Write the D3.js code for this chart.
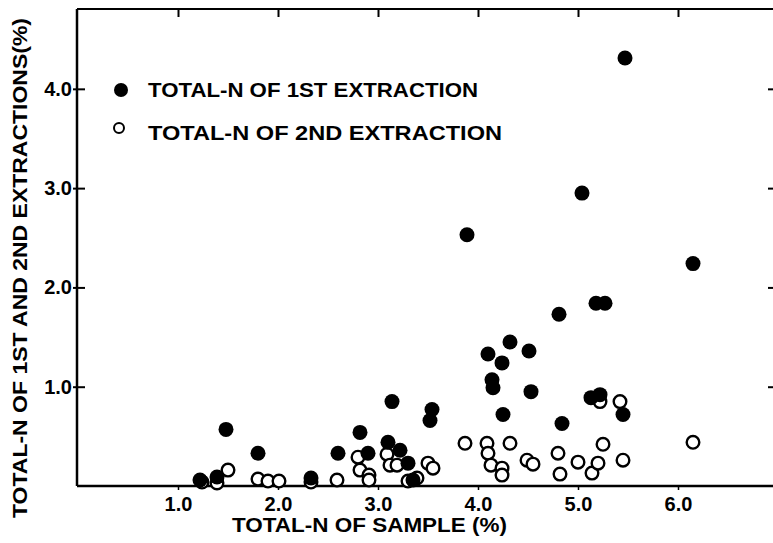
<!DOCTYPE html>
<html>
<head>
<meta charset="utf-8">
<script src="https://cdn.jsdelivr.net/npm/d3@7"></script>
<style>
  body { margin: 0; background: #fff; }
  text { font-family: "Liberation Sans", Arial, sans-serif; font-weight: bold; fill: #000; }
</style>
</head>
<body>
<svg id="chart" width="773" height="543"></svg>
<script>
// values (percent)
const firstX = [5.47, 5.04, 3.89, 6.15, 5.18, 5.27, 4.81, 4.32, 4.10, 4.51, 4.24, 4.14, 4.15, 4.53, 4.25, 4.84, 5.13, 5.22,
  5.45, 3.54, 3.52, 2.82, 3.14, 3.10, 3.22, 3.30, 2.90, 1.48, 1.80, 2.60, 1.22, 1.39, 2.33, 3.35]
const firstY = [4.31, 2.95, 2.53, 2.24, 1.84, 1.84, 1.73, 1.45, 1.33, 1.36, 1.24, 1.07, 0.99, 0.95, 0.72, 0.63, 0.89, 0.92,
  0.72, 0.77, 0.66, 0.54, 0.85, 0.44, 0.36, 0.23, 0.33, 0.57, 0.33, 0.33, 0.06, 0.09, 0.08, 0.06]

const secondX = [1.24, 1.39, 1.50, 1.80, 1.90, 2.01, 2.33, 2.59, 2.80, 2.82, 2.91, 2.91, 3.09, 3.12, 3.19, 3.30, 3.39, 3.50, 3.55,
  3.87, 4.09, 4.10, 4.13, 4.24, 4.24, 4.32, 4.49, 4.55, 4.80, 4.82, 5.00, 5.14, 5.20, 5.25, 5.22, 5.42, 5.45, 6.15]
const secondY = [0.04, 0.03, 0.16, 0.07, 0.05, 0.05, 0.04, 0.06, 0.29, 0.16, 0.11, 0.06, 0.32, 0.21, 0.21, 0.05, 0.08, 0.23, 0.18,
  0.43, 0.43, 0.33, 0.21, 0.18, 0.11, 0.43, 0.26, 0.22, 0.33, 0.12, 0.24, 0.13, 0.23, 0.42, 0.85, 0.85, 0.26, 0.44]

const xTicks = [1, 2, 3, 4, 5, 6]
const yTicks = [1, 2, 3, 4]
const legendLabels = ['TOTAL-N OF 1ST EXTRACTION', 'TOTAL-N OF 2ND EXTRACTION']

const svg = d3.select('#chart')

const x = d3.scaleLinear().domain([0, 7]).range([78, 778])
const y = d3.scaleLinear().domain([0, 4.8]).range([486, 9.4])

const fmt = d3.format('.1f')

// frame line along the top
svg.append('line').attr('x1', 77).attr('x2', 773).attr('y1', 9).attr('y2', 9).style('stroke', 'black').style('stroke-width', 2)

// bottom axis
const bottomAxis = svg.append('g').attr('transform', 'translate(0,486)')
  .call(d3.axisBottom(x).tickValues(xTicks).tickFormat(fmt).tickSizeInner(4).tickSizeOuter(0).tickPadding(6))
bottomAxis.select('.domain').attr('d', 'M77,0H773').style('stroke-width', 2.5)
bottomAxis.selectAll('.tick line').style('stroke-width', 1.5)
bottomAxis.selectAll('.tick text').style('font-size', '20px').attr('dy', '0.75em')

// top ticks
const topAxis = svg.append('g').attr('transform', 'translate(0,9)')
  .call(d3.axisTop(x).tickValues(xTicks).tickFormat('').tickSizeInner(-8).tickSizeOuter(0))
topAxis.select('.domain').remove()
topAxis.selectAll('.tick line').style('stroke-width', 2)

// left axis, ticks cross the line
const leftAxis = svg.append('g').attr('transform', 'translate(77,0)')
  .call(d3.axisLeft(y).tickValues(yTicks).tickFormat(fmt).tickSizeInner(-8).tickSizeOuter(0).tickPadding(5))
leftAxis.select('.domain').attr('d', 'M0,9V486').style('stroke-width', 2.5)
leftAxis.selectAll('.tick line').attr('x1', -4).style('stroke-width', 2)
leftAxis.selectAll('.tick text').style('font-size', '20px')

// right ticks
const rightAxis = svg.append('g').attr('transform', 'translate(776,0)')
  .call(d3.axisRight(y).tickValues(yTicks).tickFormat('').tickSizeInner(-8).tickSizeOuter(0))
rightAxis.select('.domain').remove()
rightAxis.selectAll('.tick line').style('stroke-width', 2)

// points
svg.selectAll('.second').data(secondX.map((v, i) => [v, secondY[i]])).enter().append('circle')
  .attr('class', 'second').attr('cx', d => x(d[0])).attr('cy', d => y(d[1])).attr('r', 6.3)
  .style('fill', 'white').style('stroke', 'black').style('stroke-width', 2.4)

svg.selectAll('.first').data(firstX.map((v, i) => [v, firstY[i]])).enter().append('circle')
  .attr('class', 'first').attr('cx', d => x(d[0])).attr('cy', d => y(d[1])).attr('r', 7.5)
  .style('fill', 'black')

// legend
const legend = svg.append('g')
legend.append('circle').attr('cx', 121).attr('cy', 90).attr('r', 7).style('fill', 'black')
legend.append('circle').attr('cx', 119).attr('cy', 128).attr('r', 5).style('fill', 'white').style('stroke', 'black').style('stroke-width', 2)
legend.append('text').attr('x', 148).attr('y', 97).text(legendLabels[0])
  .style('font-size', '20px').attr('textLength', 330).attr('lengthAdjust', 'spacingAndGlyphs')
legend.append('text').attr('x', 148).attr('y', 140).text(legendLabels[1])
  .style('font-size', '20px').attr('textLength', 354).attr('lengthAdjust', 'spacingAndGlyphs')

// axis titles
svg.append('text').attr('x', 232).attr('y', 532).text('TOTAL-N OF SAMPLE (%)')
  .style('font-size', '20px').attr('textLength', 275).attr('lengthAdjust', 'spacingAndGlyphs')

svg.append('text').attr('transform', 'translate(27,518) rotate(-90)').text('TOTAL-N OF 1ST AND 2ND EXTRACTIONS(%)')
  .style('font-size', '20px').attr('textLength', 500).attr('lengthAdjust', 'spacingAndGlyphs')
</script>
</body>
</html>
